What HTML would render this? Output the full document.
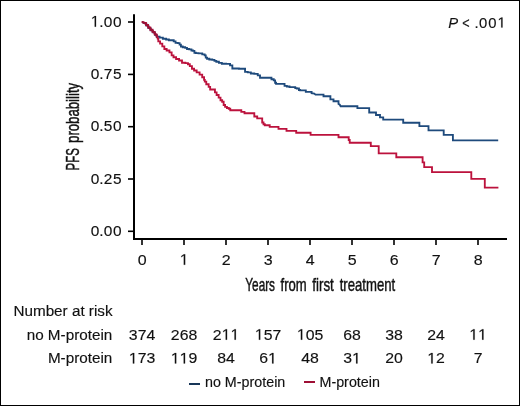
<!DOCTYPE html>
<html><head><meta charset="utf-8"><style>
html,body{margin:0;padding:0;background:#fff;}
svg{display:block;}
.tx{filter:grayscale(1);}
text{font-family:"Liberation Sans",sans-serif;fill:#111;stroke:#111;stroke-width:0.15px;}
.t{font-size:15.25px;}
.one{fill:#111;stroke:#111;stroke-width:20px;}
.l{font-size:14.3px;}
.p{font-size:14.8px;}
.c{font-size:18.5px;stroke-width:0.45px;}
</style></head><body>
<svg width="520" height="406" viewBox="0 0 520 406">
<rect x="0.5" y="0.5" width="519" height="405" fill="#fff" stroke="#000" stroke-width="1"/>
<path d="M134 14.2 V239 H507" fill="none" stroke="#000" stroke-width="2"/>
<line x1="128" x2="134" y1="22.0" y2="22.0" stroke="#000" stroke-width="1.6"/>
<line x1="128" x2="134" y1="74.4" y2="74.4" stroke="#000" stroke-width="1.6"/>
<line x1="128" x2="134" y1="126.7" y2="126.7" stroke="#000" stroke-width="1.6"/>
<line x1="128" x2="134" y1="179.0" y2="179.0" stroke="#000" stroke-width="1.6"/>
<line x1="128" x2="134" y1="231.3" y2="231.3" stroke="#000" stroke-width="1.6"/>
<line x1="142" x2="142" y1="239" y2="245" stroke="#000" stroke-width="1.6"/>
<line x1="184" x2="184" y1="239" y2="245" stroke="#000" stroke-width="1.6"/>
<line x1="226" x2="226" y1="239" y2="245" stroke="#000" stroke-width="1.6"/>
<line x1="268" x2="268" y1="239" y2="245" stroke="#000" stroke-width="1.6"/>
<line x1="310" x2="310" y1="239" y2="245" stroke="#000" stroke-width="1.6"/>
<line x1="352" x2="352" y1="239" y2="245" stroke="#000" stroke-width="1.6"/>
<line x1="394" x2="394" y1="239" y2="245" stroke="#000" stroke-width="1.6"/>
<line x1="436" x2="436" y1="239" y2="245" stroke="#000" stroke-width="1.6"/>
<line x1="478" x2="478" y1="239" y2="245" stroke="#000" stroke-width="1.6"/>
<path d="M142.7 22.7 L145.3 23.6 H146.30 V25.6 H147.3 H148.40 V28.1 H149.5 H150.60 V30.3 H151.7 H152.75 V32.4 H153.8 H154.90 V34.9 H156.0 H156.80 V37.0 H157.6 L158.0 36.6 H159.60 V37.6 H161.2 H162.85 V38.7 H164.5 H166.10 V39.5 H167.7 H168.85 V40.2 H170.0 H171.50 V40.2 H173.0 H173.70 V41.3 H174.4 H175.55 V42.8 H176.7 H177.80 V43.1 H178.9 H179.60 V44.6 H180.3 H180.90 V46.5 H181.5 H182.75 V47.2 H184.0 H185.15 V47.9 H186.3 H187.00 V49.0 H187.7 H189.20 V49.4 H190.7 H191.45 V50.5 H192.2 H192.95 V50.9 H193.7 H194.40 V52.7 H195.1 H195.85 V53.1 H196.6 H198.50 V53.3 H200.4 H202.25 V54.3 H204.1 H204.65 V55.4 H205.2 H205.75 V57.6 H206.3 H207.05 V58.7 H207.8 H209.30 V59.5 H210.8 H212.25 V59.8 H213.7 H214.45 V60.9 H215.2 H216.30 V61.7 H217.4 H218.90 V62.8 H220.4 H221.85 V63.7 H223.3 H226.10 V63.8 H228.9 H230.05 V65.4 H231.2 H232.35 V68.5 H233.5 H238.90 V68.7 H244.3 H245.05 V71.9 H245.8 H247.75 V72.3 H249.7 H250.85 V73.5 H252.0 H254.30 V73.8 H256.6 H257.75 V75.4 H258.9 H260.00 V77.7 H261.1 H265.70 V77.7 H270.3 H271.45 V79.2 H272.6 H273.75 V80.4 H274.9 H275.10 V82.7 H275.3 H276.05 V83.8 H276.8 H280.50 V83.8 H284.2 H284.55 V85.8 H284.9 H286.85 V86.5 H288.8 H289.55 V87.1 H290.3 H292.70 V87.1 H295.1 H295.25 V88.1 H295.4 H296.80 V88.5 H298.2 H298.95 V90.0 H299.7 H300.10 V90.4 H300.5 H305.8 V91.9 H311.6 V93.1 L314.3 93.5 L315.5 94.6 H323.5 V96.2 H330.4 V99.3 H333.5 V101.2 H338.5 V103.9 L339.8 104.7 L340.6 106.2 H357.4 V108.1 H369.2 V112.5 H376 V115 H380 V117.4 H383.2 V119.6 H403.2 V122.7 H419.4 V126.1 H428.5 V130.4 H443.7 V134.8 H452.9 V140.3 H498.2" fill="none" stroke="#1e4a7c" stroke-width="1.85" stroke-linejoin="miter"/>
<path d="M142.4 22.1 L145.0 23.0 H146.00 V25.0 H147.0 H148.10 V27.5 H149.2 H150.30 V29.7 H151.4 H152.45 V31.8 H153.5 H154.60 V34.3 H155.7 H156.50 V36.4 H157.3 L157.6 38.5 H158.30 V41.4 H159.0 H160.10 V43.6 H161.2 H162.30 V46.3 H163.4 H164.35 V49.0 H165.3 H166.65 V50.5 H168.0 H169.45 V52.4 H170.9 H171.65 V55.3 H172.4 H173.50 V57.2 H174.6 H176.10 V59.0 H177.6 H179.05 V60.5 H180.5 H182.00 V62.7 H183.5 H185.35 V63.1 H187.2 H187.95 V64.2 H188.7 H189.80 V66.1 H190.9 H191.95 V68.7 H193.0 H194.10 V70.5 H195.2 H196.65 V72.4 H198.1 H199.60 V74.6 H201.1 H202.20 V77.2 H203.3 H204.05 V79.8 H204.8 H204.80 V81.6 H204.8 H206.25 V84.2 H207.7 H208.65 V86.8 H209.6 H210.15 V89.5 H210.7 H212.45 V89.5 H214.2 H214.95 V92.4 H215.7 H216.60 V95.0 H217.5 H218.65 V97.6 H219.8 H220.50 V100.2 H221.2 H222.15 V101.7 H223.1 H223.65 V105.0 H224.2 H225.10 V106.8 H226.0 H226.95 V108.0 H227.9 H228.80 V108.7 H229.7 H230.25 V110.2 H230.8 H241.3 V111.8 H244.5 V113.2 H254.3 V116.5 H257.2 V118.4 H262.2 V122.5 H263.5 V124.2 H264.8 V125.2 H269.7 V126.9 H278.5 V128.8 H286.5 V130.8 H296.2 V132.7 H310.6 V134.8 H338.5 V137.2 H348.7 V140 H349.7 V142.7 H370.8 V146.1 H378.7 V153.3 H396.3 V157.2 H422.6 V162.3 H424.2 V167.1 H432 V172.1 H471.3 V178.8 H484.8 V187.6 H498.4" fill="none" stroke="#bc123d" stroke-width="1.85" stroke-linejoin="miter"/>
<path d="M142.4 22.1 L145.0 23.0 L147.0 25.0 L149.2 27.5 L151.4 29.7 L153.5 31.8 L155.7 34.3 L156.8 35.8" fill="none" stroke="#9a1236" stroke-width="2.1" stroke-linecap="round" stroke-linejoin="round"/>
<rect x="189" y="383" width="11" height="2" fill="#183658"/>
<rect x="304" y="381" width="11" height="2" fill="#9e0f35"/>
<g class="tx">
<g><text x="99.20 103.80 112.90" y="26.70" style="font-size:15.45px">.00</text><path transform="translate(90.80 26.70) scale(0.00754 -0.00754)" d="M515 0V1237L197 1010V1180L530 1409H696V0Z" class="one"/></g>
<g><text x="90.80 99.20 103.80 112.90" y="79.10" style="font-size:15.45px">0.75</text></g>
<g><text x="90.80 99.20 103.80 112.90" y="131.40" style="font-size:15.45px">0.50</text></g>
<g><text x="90.80 99.20 103.80 112.90" y="183.70" style="font-size:15.45px">0.25</text></g>
<g><text x="90.80 99.20 103.80 112.90" y="236.00" style="font-size:15.45px">0.00</text></g>
<g><text transform="translate(0.00 264.80) scale(1.050 1)" x="131.19" y="0" style="font-size:15.25px">0</text></g>
<g><path transform="translate(179.75 264.80) scale(0.00782 -0.00745)" d="M515 0V1237L197 1010V1180L530 1409H696V0Z" class="one"/></g>
<g><text transform="translate(0.00 264.80) scale(1.050 1)" x="211.19" y="0" style="font-size:15.25px">2</text></g>
<g><text transform="translate(0.00 264.80) scale(1.050 1)" x="251.19" y="0" style="font-size:15.25px">3</text></g>
<g><text transform="translate(0.00 264.80) scale(1.050 1)" x="291.19" y="0" style="font-size:15.25px">4</text></g>
<g><text transform="translate(0.00 264.80) scale(1.050 1)" x="331.19" y="0" style="font-size:15.25px">5</text></g>
<g><text transform="translate(0.00 264.80) scale(1.050 1)" x="371.19" y="0" style="font-size:15.25px">6</text></g>
<g><text transform="translate(0.00 264.80) scale(1.050 1)" x="411.19" y="0" style="font-size:15.25px">7</text></g>
<g><text transform="translate(0.00 264.80) scale(1.050 1)" x="451.19" y="0" style="font-size:15.25px">8</text></g>
<text x="245.31" y="291.1" class="c" textLength="29.71" lengthAdjust="spacingAndGlyphs">Years</text>
<text x="280.50" y="291.1" class="c" textLength="26.15" lengthAdjust="spacingAndGlyphs">from</text>
<text x="312.30" y="291.1" class="c" textLength="21.48" lengthAdjust="spacingAndGlyphs">first</text>
<text x="339.70" y="291.1" class="c" textLength="55.52" lengthAdjust="spacingAndGlyphs">treatment</text>
<text transform="translate(79 170.52) rotate(-90)" x="0" y="0" class="c" textLength="22.33" lengthAdjust="spacingAndGlyphs">PFS</text>
<text transform="translate(79 142.96) rotate(-90)" x="0" y="0" class="c" textLength="60.14" lengthAdjust="spacingAndGlyphs">probability</text>
<text x="448.3" y="27.6" class="p" font-style="italic">P</text>
<text x="462.3" y="27.6" class="p" textLength="7.4" lengthAdjust="spacingAndGlyphs">&lt;</text>
<g><text x="474.6 478.9 488.2" y="27.6" style="font-size:14.8px">.00</text><path transform="translate(497.5 27.6) scale(0.00723 -0.00723)" d="M515 0V1237L197 1010V1180L530 1409H696V0Z" class="one"/></g>
<text x="112.6" y="315.9" text-anchor="end" class="t">Number at risk</text>
<text x="112.3" y="340.0" text-anchor="end" class="t">no M-protein</text>
<text x="112.3" y="363.3" text-anchor="end" class="t">M-protein</text>
<g><text transform="translate(0.00 339.70) scale(1.040 1)" x="123.91 132.39 140.88" y="0" style="font-size:15.25px">374</text></g>
<g><text transform="translate(0.00 363.40) scale(1.040 1)" x="132.39 140.88" y="0" style="font-size:15.25px">73</text><path transform="translate(128.87 363.40) scale(0.00774 -0.00745)" d="M515 0V1237L197 1010V1180L530 1409H696V0Z" class="one"/></g>
<g><text transform="translate(0.00 339.70) scale(1.040 1)" x="164.30 172.78 181.26" y="0" style="font-size:15.25px">268</text></g>
<g><text transform="translate(0.00 363.40) scale(1.040 1)" x="181.26" y="0" style="font-size:15.25px">9</text><path transform="translate(170.87 363.40) scale(0.00774 -0.00745)" d="M515 0V1237L197 1010V1180L530 1409H696V0Z" class="one"/><path transform="translate(179.69 363.40) scale(0.00774 -0.00745)" d="M515 0V1237L197 1010V1180L530 1409H696V0Z" class="one"/></g>
<g><text transform="translate(0.00 339.70) scale(1.040 1)" x="204.68" y="0" style="font-size:15.25px">2</text><path transform="translate(221.69 339.70) scale(0.00774 -0.00745)" d="M515 0V1237L197 1010V1180L530 1409H696V0Z" class="one"/><path transform="translate(230.51 339.70) scale(0.00774 -0.00745)" d="M515 0V1237L197 1010V1180L530 1409H696V0Z" class="one"/></g>
<g><text transform="translate(0.00 363.40) scale(1.040 1)" x="208.92 217.40" y="0" style="font-size:15.25px">84</text></g>
<g><text transform="translate(0.00 339.70) scale(1.040 1)" x="253.55 262.03" y="0" style="font-size:15.25px">57</text><path transform="translate(254.87 339.70) scale(0.00774 -0.00745)" d="M515 0V1237L197 1010V1180L530 1409H696V0Z" class="one"/></g>
<g><text transform="translate(0.00 363.40) scale(1.040 1)" x="249.31" y="0" style="font-size:15.25px">6</text><path transform="translate(268.10 363.40) scale(0.00774 -0.00745)" d="M515 0V1237L197 1010V1180L530 1409H696V0Z" class="one"/></g>
<g><text transform="translate(0.00 339.70) scale(1.040 1)" x="293.93 302.41" y="0" style="font-size:15.25px">05</text><path transform="translate(296.87 339.70) scale(0.00774 -0.00745)" d="M515 0V1237L197 1010V1180L530 1409H696V0Z" class="one"/></g>
<g><text transform="translate(0.00 363.40) scale(1.040 1)" x="289.69 298.17" y="0" style="font-size:15.25px">48</text></g>
<g><text transform="translate(0.00 339.70) scale(1.040 1)" x="330.08 338.56" y="0" style="font-size:15.25px">68</text></g>
<g><text transform="translate(0.00 363.40) scale(1.040 1)" x="330.08" y="0" style="font-size:15.25px">3</text><path transform="translate(352.10 363.40) scale(0.00774 -0.00745)" d="M515 0V1237L197 1010V1180L530 1409H696V0Z" class="one"/></g>
<g><text transform="translate(0.00 339.70) scale(1.040 1)" x="370.46 378.94" y="0" style="font-size:15.25px">38</text></g>
<g><text transform="translate(0.00 363.40) scale(1.040 1)" x="370.46 378.94" y="0" style="font-size:15.25px">20</text></g>
<g><text transform="translate(0.00 339.70) scale(1.040 1)" x="410.85 419.33" y="0" style="font-size:15.25px">24</text></g>
<g><text transform="translate(0.00 363.40) scale(1.040 1)" x="419.33" y="0" style="font-size:15.25px">2</text><path transform="translate(427.28 363.40) scale(0.00774 -0.00745)" d="M515 0V1237L197 1010V1180L530 1409H696V0Z" class="one"/></g>
<g><path transform="translate(469.28 339.70) scale(0.00774 -0.00745)" d="M515 0V1237L197 1010V1180L530 1409H696V0Z" class="one"/><path transform="translate(478.10 339.70) scale(0.00774 -0.00745)" d="M515 0V1237L197 1010V1180L530 1409H696V0Z" class="one"/></g>
<g><text transform="translate(0.00 363.40) scale(1.040 1)" x="455.47" y="0" style="font-size:15.25px">7</text></g>
<text x="205" y="386.6" class="l">no M-protein</text>
<text x="319.5" y="386.8" class="l">M-protein</text>
</g>
</svg>
</body></html>
